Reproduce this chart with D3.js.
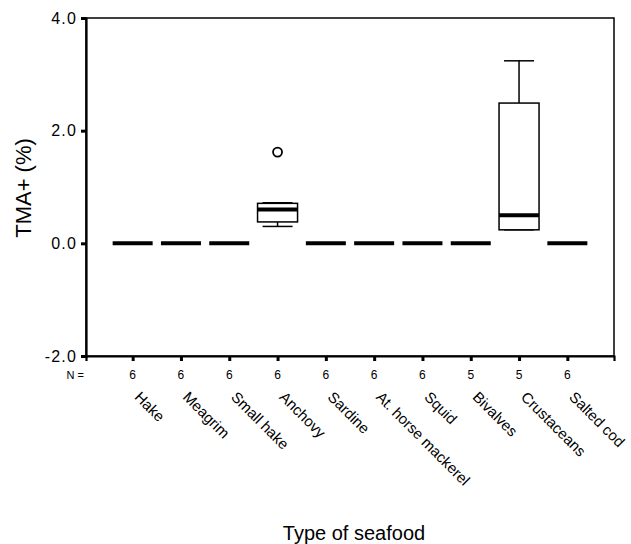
<!DOCTYPE html>
<html>
<head>
<meta charset="utf-8">
<script src="https://cdn.jsdelivr.net/npm/d3@7"></script>
<style>
  body { margin: 0; background: #fff; }
  svg { display: block; font-family: "Liberation Sans", Arial, sans-serif; }
</style>
</head>
<body>
<svg id="chart" width="631" height="544"></svg>
<script>
// ---- data ----
const categories = ["Hake", "Meagrim", "Small hake", "Anchovy", "Sardine", "At. horse mackerel", "Squid", "Bivalves", "Crustaceans", "Salted cod"];
const counts      = [6, 6, 6, 6, 6, 6, 6, 5, 5, 6];
const whiskerLow  = [0, 0, 0, 0.30, 0, 0, 0, 0, 0.24, 0];
const q1          = [0, 0, 0, 0.38, 0, 0, 0, 0, 0.24, 0];
const medians     = [0, 0, 0, 0.60, 0, 0, 0, 0, 0.50, 0];
const q3          = [0, 0, 0, 0.71, 0, 0, 0, 0, 2.49, 0];
const whiskerHigh = [0, 0, 0, 0.72, 0, 0, 0, 0, 3.24, 0];
const outlierCats   = ["Anchovy"];
const outlierValues = [1.62];
const yTicks = [-2, 0, 2, 4];

// ---- layout ----
const svg = d3.select("#chart");
const L = 86, R = 614, T = 18, B = 356;

const x = d3.scalePoint().domain(categories).range([L, R]).padding(0.966);
const y = d3.scaleLinear().domain([-2, 4]).range([B, T]);

const boxW = 40, capW = 30;
const fmt = d3.formatLocale({decimal: ".", thousands: ",", grouping: [3], currency: ["", ""], minus: "-"}).format(".1f");

// frame
svg.append("rect").attr("x", L).attr("y", T).attr("width", R - L).attr("height", B - T)
  .attr("fill", "none").attr("stroke", "#000").attr("stroke-width", 1.5);

// y axis
const yAxis = d3.axisLeft(y).tickValues(yTicks).tickFormat(fmt).tickSize(5).tickPadding(4);
const gy = svg.append("g").attr("transform", `translate(${L},0)`).call(yAxis);
gy.select(".domain").attr("stroke-width", 2.2);
gy.selectAll(".tick line").attr("stroke-width", 3);
gy.selectAll(".tick text").attr("font-size", 16).attr("fill", "#000")
  .attr("letter-spacing", 1.2)
  .attr("font-family", "Liberation Sans, Arial, sans-serif");

// x axis
const xAxis = d3.axisBottom(x).tickSize(5).tickFormat("");
const gx = svg.append("g").attr("transform", `translate(0,${B})`).call(xAxis);
gx.select(".domain").attr("stroke-width", 2.2);
gx.selectAll(".tick line").attr("stroke-width", 3);

// N row
svg.append("text").attr("x", 84).attr("y", 379).attr("text-anchor", "end")
  .attr("font-size", 11).text("N =");
svg.append("g").selectAll("text").data(categories).join("text")
  .attr("x", d => x(d)).attr("y", 379).attr("text-anchor", "middle")
  .attr("font-size", 12).text((d, i) => counts[i]);

// category labels
svg.append("g").selectAll("text").data(categories).join("text")
  .attr("transform", d => `translate(${x(d) + 1},398) rotate(45)`)
  .attr("font-size", 15).text(d => d);

// boxes
const boxes = svg.append("g").selectAll("g").data(categories).join("g");
boxes.each(function(d, i) {
  const g = d3.select(this);
  const cx = x(d);
  if (whiskerHigh[i] > q3[i]) {
    g.append("line").attr("x1", cx).attr("x2", cx).attr("y1", y(q3[i])).attr("y2", y(whiskerHigh[i]))
      .attr("stroke", "#000").attr("stroke-width", 1.5);
  }
  if (whiskerLow[i] < q1[i]) {
    g.append("line").attr("x1", cx).attr("x2", cx).attr("y1", y(q1[i])).attr("y2", y(whiskerLow[i]))
      .attr("stroke", "#000").attr("stroke-width", 1.5);
  }
  if (whiskerHigh[i] !== 0 || whiskerLow[i] !== 0) {
    [whiskerHigh[i], whiskerLow[i]].forEach(v => {
      g.append("line").attr("x1", cx - capW / 2).attr("x2", cx + capW / 2).attr("y1", y(v)).attr("y2", y(v))
        .attr("stroke", "#000").attr("stroke-width", 1.5);
    });
  }
  if (q3[i] > q1[i]) {
    g.append("rect").attr("x", cx - boxW / 2).attr("width", boxW)
      .attr("y", y(q3[i])).attr("height", y(q1[i]) - y(q3[i]))
      .attr("fill", "#fff").attr("stroke", "#000").attr("stroke-width", 1.5);
  }
  g.append("line").attr("x1", cx - boxW / 2).attr("x2", cx + boxW / 2)
    .attr("y1", y(medians[i])).attr("y2", y(medians[i]))
    .attr("stroke", "#000").attr("stroke-width", 4);
});

// outliers
svg.append("g").selectAll("circle").data(outlierCats).join("circle")
  .attr("cx", d => x(d)).attr("cy", (d, i) => y(outlierValues[i])).attr("r", 4.5)
  .attr("fill", "none").attr("stroke", "#000").attr("stroke-width", 1.8);

// axis titles
svg.append("text").attr("transform", `translate(31,188) rotate(-90)`).attr("text-anchor", "middle")
  .attr("font-size", 22).text("TMA+ (%)");
svg.append("text").attr("x", 354).attr("y", 540).attr("text-anchor", "middle")
  .attr("font-size", 20).text("Type of seafood");
</script>
</body>
</html>
